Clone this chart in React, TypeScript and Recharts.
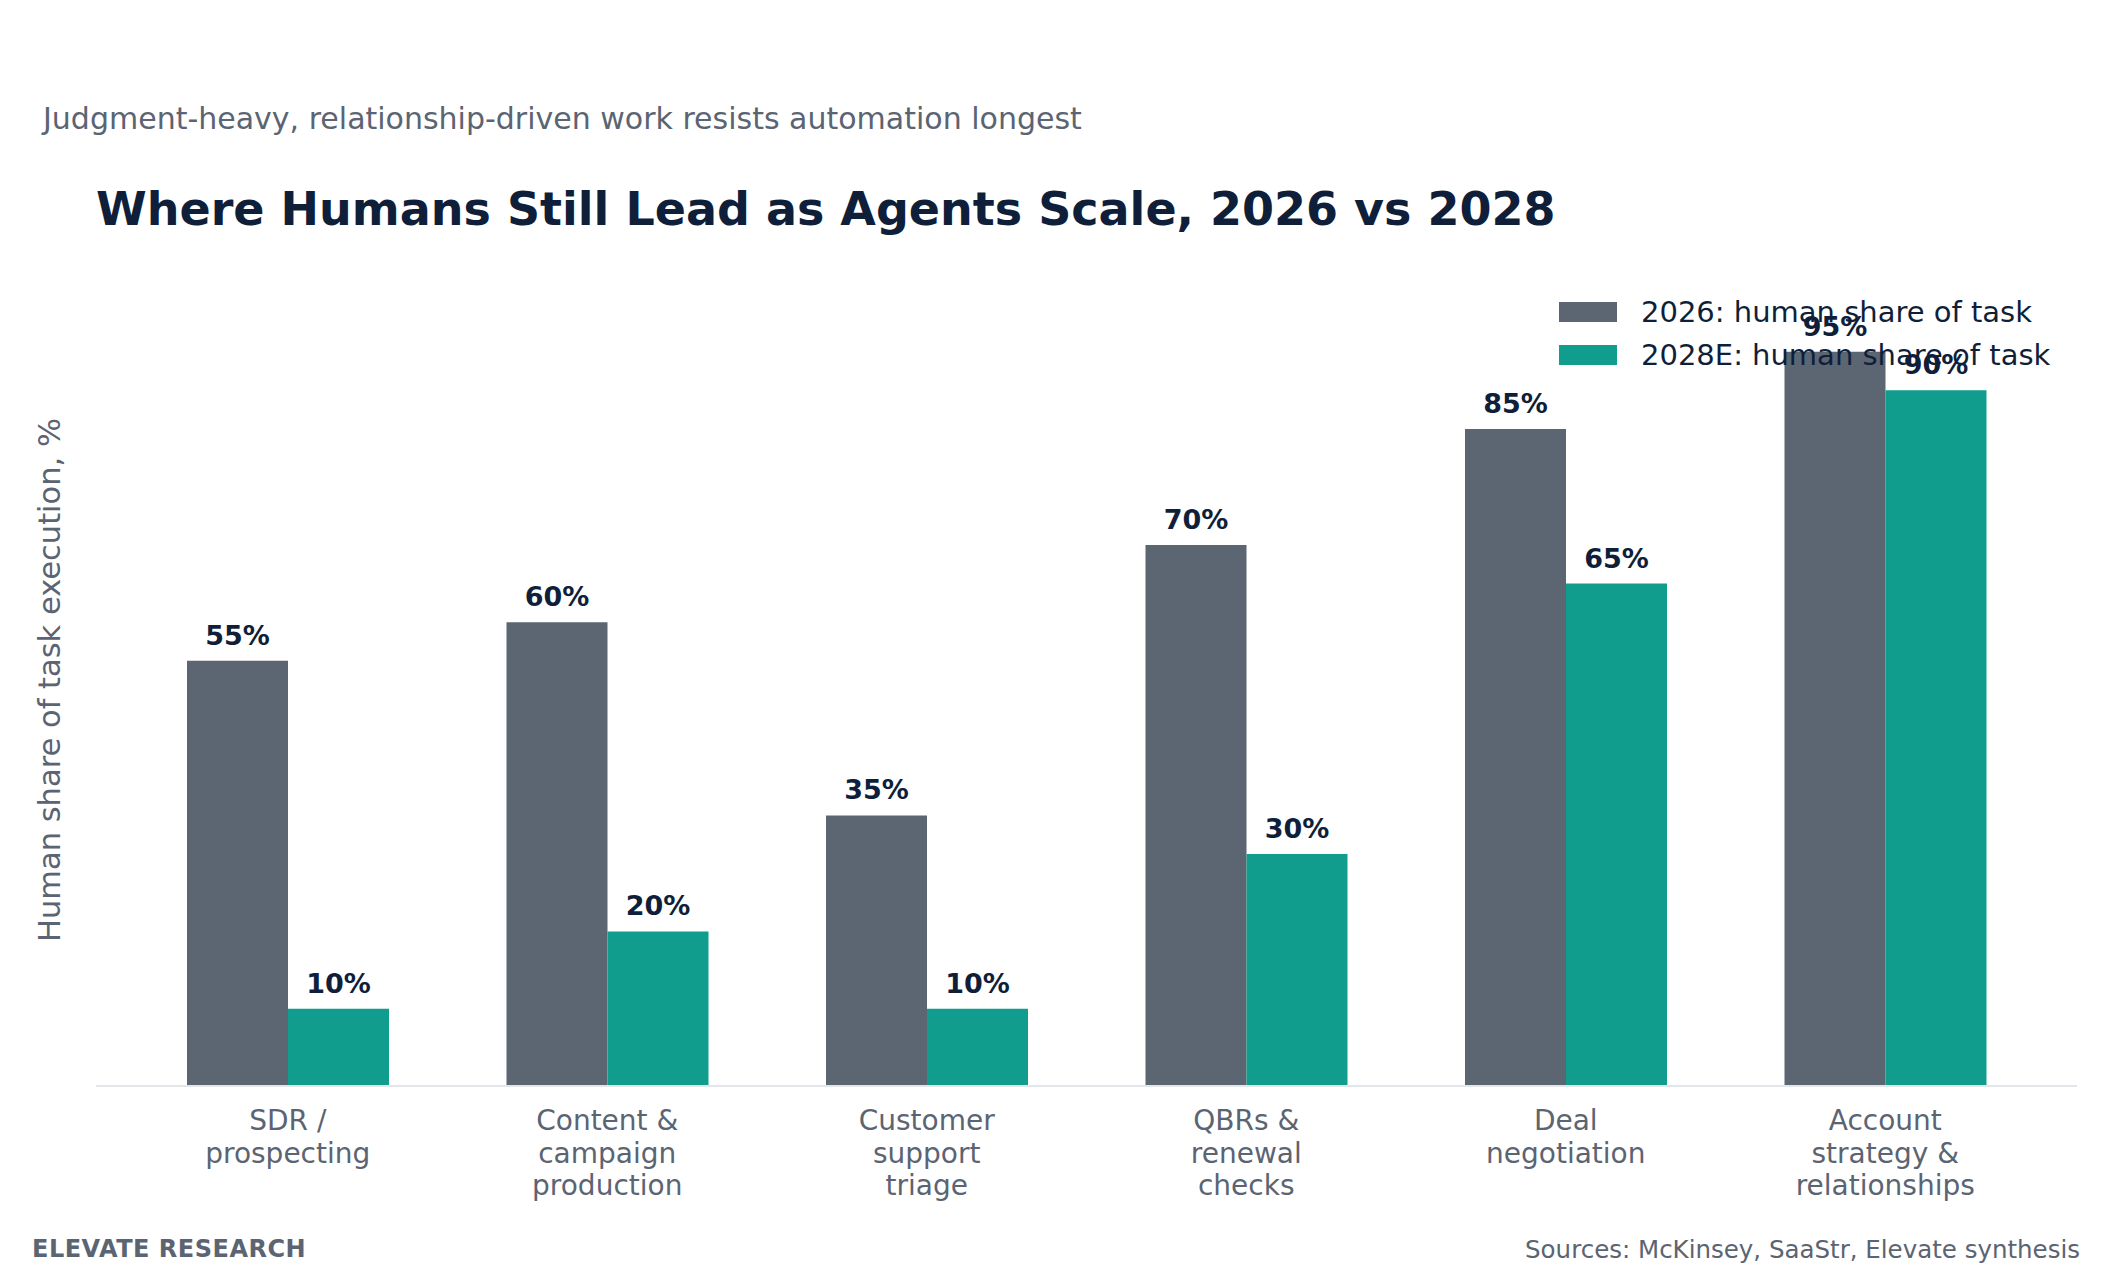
import React from "react";
import { BarChart, Bar, XAxis, YAxis, LabelList } from "recharts";

const categories = [
  "SDR /\nprospecting",
  "Content &\ncampaign\nproduction",
  "Customer\nsupport\ntriage",
  "QBRs &\nrenewal\nchecks",
  "Deal\nnegotiation",
  "Account\nstrategy &\nrelationships",
];
const share2026 = [55, 60, 35, 70, 85, 95];
const share2028 = [10, 20, 10, 30, 65, 90];

const series = [
  { key: "y2026", name: "2026: human share of task", color: "#5c6572" },
  { key: "y2028", name: "2028E: human share of task", color: "#109d8e" },
];

const data = categories.map((c, i) => ({ cat: c, y2026: share2026[i], y2028: share2028[i] }));

const FONT = "DejaVu Sans, sans-serif";
const NAVY = "#0f1f3a";
const GRAY = "#5b6472";

function Tick({ x, y, payload }: { x?: number; y?: number; payload?: { value: string } }) {
  const lines = (payload?.value ?? "").split("\n");
  return (
    <text x={x} y={(y ?? 0) + 36} textAnchor="middle" fill={GRAY} fontSize={28} fontFamily={FONT}>
      {lines.map((l, i) => (
        <tspan key={i} x={x} dy={i === 0 ? 0 : 32.5}>{l}</tspan>
      ))}
    </text>
  );
}

export default function App() {
  return (
    <div style={{ position: "absolute", left: 0, top: 0, width: 2112, height: 1276, background: "#fff", fontFamily: FONT }}>
      <div style={{ position: "absolute", left: 43, top: 101, fontSize: 30, color: GRAY, whiteSpace: "nowrap" }}>
        Judgment-heavy, relationship-driven work resists automation longest
      </div>
      <div style={{ position: "absolute", left: 96, top: 182, fontSize: 46, fontWeight: "bold", color: NAVY, whiteSpace: "nowrap" }}>
        Where Humans Still Lead as Agents Scale, 2026 vs 2028
      </div>
      <div
        style={{
          position: "absolute", left: 49, top: 680, fontSize: 30.5, color: GRAY, whiteSpace: "nowrap",
          transform: "translate(-50%, -50%) rotate(-90deg)",
        }}
      >
        Human share of task execution, %
      </div>
      <BarChart width={2112} height={1276} data={data} barGap={0} barSize={101}
        margin={{ top: 313, right: 35, bottom: 70, left: 96 }}>
        <XAxis dataKey="cat" interval={0} height={120} tickLine={false} padding={{ left: 32, right: 32 }}
          axisLine={{ stroke: "#e2e5ea", strokeWidth: 2 }} tick={<Tick />} />
        <YAxis hide domain={[0, 100]} />
        {series.map((s) => (
          <Bar key={s.key} dataKey={s.key} name={s.name} fill={s.color} isAnimationActive={false}>
            <LabelList dataKey={s.key} position="top" offset={16} fill={NAVY} fontSize={27} fontWeight="bold"
              fontFamily={FONT} formatter={(v: number) => `${v}%`} />
          </Bar>
        ))}
      </BarChart>
      <div style={{ position: "absolute", left: 1559, top: 290, fontSize: 29, color: NAVY }}>
        {series.map((s) => (
          <div key={s.key} style={{ display: "flex", alignItems: "center", height: 43 }}>
            <div style={{ width: 58, height: 20, background: s.color, marginRight: 24 }} />
            <span style={{ whiteSpace: "nowrap" }}>{s.name}</span>
          </div>
        ))}
      </div>
      <div style={{ position: "absolute", left: 32, top: 1235, fontSize: 24, fontWeight: "bold", color: GRAY, letterSpacing: 0.5 }}>
        ELEVATE RESEARCH
      </div>
      <div style={{ position: "absolute", right: 32, top: 1235, fontSize: 24.5, color: GRAY, whiteSpace: "nowrap" }}>
        Sources: McKinsey, SaaStr, Elevate synthesis
      </div>
    </div>
  );
}
